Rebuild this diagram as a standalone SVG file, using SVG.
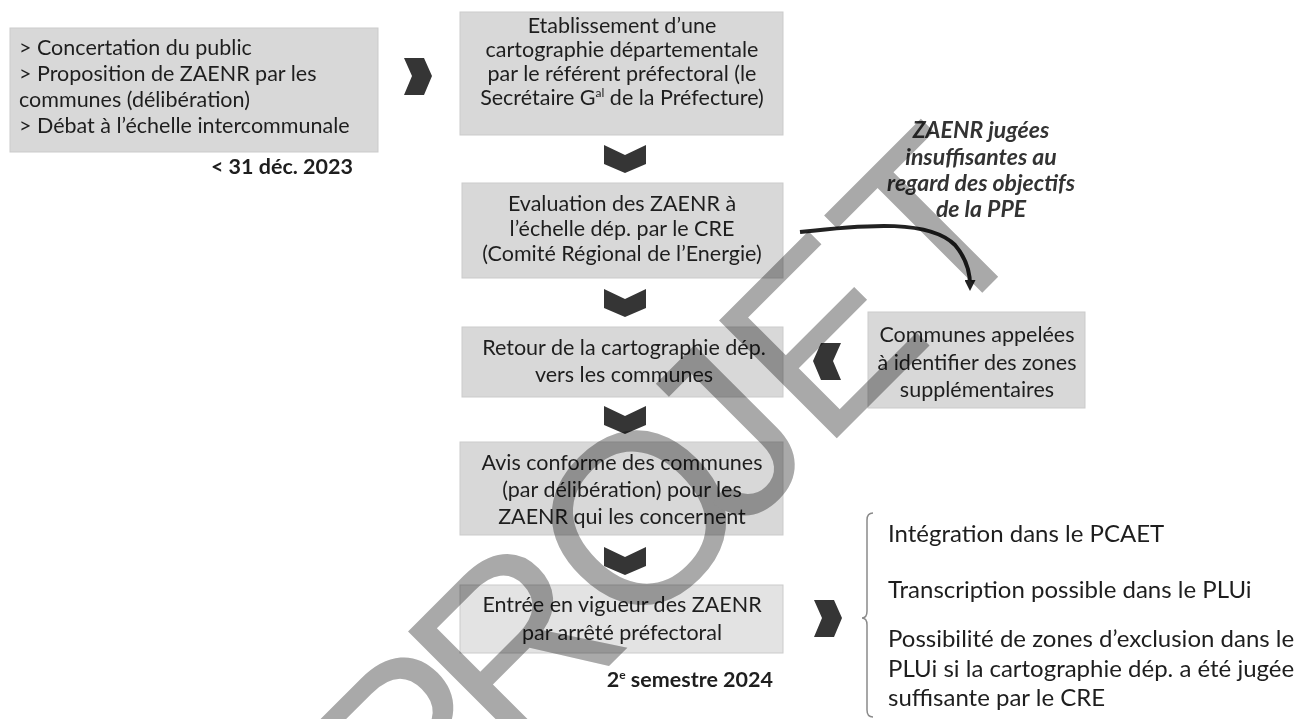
<svg xmlns="http://www.w3.org/2000/svg" width="1305" height="719" viewBox="0 0 1305 719">
<style>
.box{fill:#d8d8d8;stroke:#cbcbcb;stroke-width:1}
.box.light{fill:#e3e3e3}
.t{font-family:Lato,"Liberation Sans",sans-serif;font-size:21.5px;fill:#1e1e1e}
.c{text-anchor:middle}
.r{font-family:Lato,"Liberation Sans",sans-serif;font-size:24px;fill:#1e1e1e}
.b{font-family:Lato,"Liberation Sans",sans-serif;font-size:21.5px;font-weight:bold;fill:#1e1e1e;text-anchor:end}
.i{font-family:Lato,"Liberation Sans",sans-serif;font-size:23px;font-weight:bold;font-style:italic;fill:#333;text-anchor:middle}
.chev{fill:#353535}
.wm{font-family:"Liberation Sans",sans-serif;font-size:242px;fill:#a9a9a9;mix-blend-mode:multiply}
</style>
<defs>
<marker id="ah" markerWidth="11" markerHeight="11" refX="5" refY="5.5" orient="auto" markerUnits="userSpaceOnUse"><path d="M0,0 L11,5.5 L0,11 z" fill="#222"/></marker>
</defs>

<g id="n1">
<rect class="box" x="10" y="28" width="368" height="124"/>
<text class="t" x="19" y="55">&gt; Concertation du public</text>
<text class="t" x="19" y="81">&gt; Proposition de ZAENR par les</text>
<text class="t" x="19" y="107">communes (délibération)</text>
<text class="t" x="19" y="133">&gt; Débat à l’échelle intercommunale</text>
<text class="b" x="353" y="174">&lt; 31 déc. 2023</text>
</g>

<g id="n2">
<rect class="box" x="460" y="12" width="323" height="123"/>
<text class="t c" x="622" y="33">Etablissement d’une</text>
<text class="t c" x="622" y="57">cartographie départementale</text>
<text class="t c" x="622" y="81">par le référent préfectoral (le</text>
<text class="t c" x="622" y="105">Secrétaire G<tspan font-size="12" dy="-8">al</tspan><tspan dy="8"> de la Préfecture)</tspan></text>
</g>

<g id="n3">
<rect class="box" x="462" y="183" width="321" height="95"/>
<text class="t c" x="622" y="211">Evaluation des ZAENR à</text>
<text class="t c" x="622" y="236">l’échelle dép. par le CRE</text>
<text class="t c" x="622" y="261">(Comité Régional de l’Energie)</text>
</g>

<g id="n4">
<rect class="box" x="462" y="327" width="321" height="70"/>
<text class="t c" x="624" y="355">Retour de la cartographie dép.</text>
<text class="t c" x="624" y="382">vers les communes</text>
</g>

<g id="n5">
<rect class="box" x="460" y="442" width="323" height="93"/>
<text class="t c" x="622" y="470">Avis conforme des communes</text>
<text class="t c" x="622" y="497">(par délibération) pour les</text>
<text class="t c" x="622" y="524">ZAENR qui les concernent</text>
</g>

<g id="n6">
<rect class="box light" x="460" y="585" width="323" height="68"/>
<text class="t c" x="622" y="612">Entrée en vigueur des ZAENR</text>
<text class="t c" x="622" y="640">par arrêté préfectoral</text>
<text class="b" x="773" y="687">2<tspan font-size="12" dy="-8">e</tspan><tspan dy="8"> semestre 2024</tspan></text>
</g>

<g id="n7">
<rect class="box" x="868" y="312" width="217" height="96"/>
<text class="t c" x="977" y="342">Communes appelées</text>
<text class="t c" x="977" y="370">à identifier des zones</text>
<text class="t c" x="977" y="397">supplémentaires</text>
</g>

<g id="n8">
<text class="i" x="981" y="138">ZAENR jugées</text>
<text class="i" x="981" y="165">insuffisantes au</text>
<text class="i" x="981" y="191">regard des objectifs</text>
<text class="i" x="981" y="217">de la PPE</text>
</g>

<g id="n9">
<path d="M873,513 Q867,513 867,520 L867,611 Q867,618 862,618 Q867,618 867,625 L867,710 Q867,717 873,717" fill="none" stroke="#8a8a8a" stroke-width="1.5"/>
<text class="r" x="888" y="542">Intégration dans le PCAET</text>
<text class="r" x="888" y="598">Transcription possible dans le PLUi</text>
<text class="r" x="888" y="647">Possibilité de zones d’exclusion dans le</text>
<text class="r" x="888" y="677">PLUi si la cartographie dép. a été jugée</text>
<text class="r" x="888" y="706">suffisante par le CRE</text>
</g>

<g id="connectors">
<polygon class="chev" points="404,58 424,58 432,76 424,95 404,95 412,76"/>
<polygon class="chev" points="604,145 625,155 646,145 646,164 625,173 604,164"/>
<polygon class="chev" points="604,289 625,299 646,289 646,308 625,317 604,308"/>
<polygon class="chev" points="604,406 625,416 646,406 646,425 625,434 604,425"/>
<polygon class="chev" points="604,547 625,557 646,547 646,566 625,575 604,566"/>
<polygon class="chev" points="841,343 821,343 813,361 821,380 841,380 833,361"/>
<polygon class="chev" points="814,600 834,600 842,618 834,637 814,637 822,618"/>
<path d="M800,232 C870,224 930,220 955,245 C966,258 970,272 970,285" fill="none" stroke="#222" stroke-width="4" marker-end="url(#ah)"/>
</g>

<g id="watermark">
<text class="wm" transform="translate(637.5 637.5) rotate(-45)" x="-315 -178 -8 144 262 425" y="0">PROJET</text>
</g>
</svg>
